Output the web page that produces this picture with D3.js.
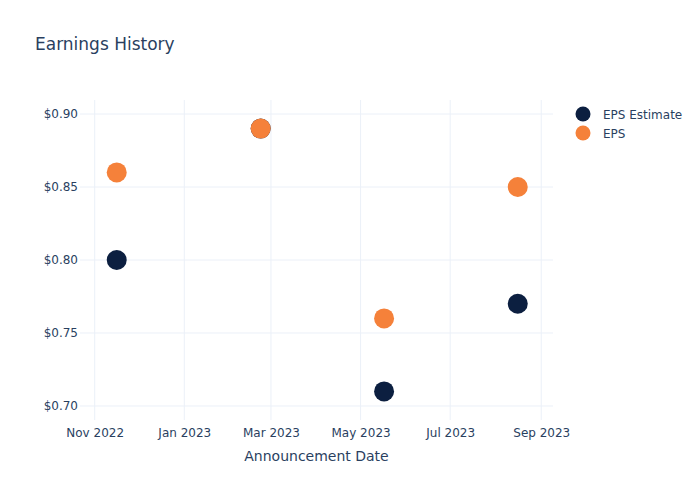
<!DOCTYPE html>
<html><head><meta charset="utf-8">
<script src="https://cdn.jsdelivr.net/npm/d3@7"></script>
<style>body{margin:0;background:#fff;font-family:"DejaVu Sans",Verdana,sans-serif;}</style>
</head><body><div id="chart"></div>
<script>
const dates = ["2022-11-16", "2023-02-22", "2023-05-17", "2023-08-16"];
const epsEstimate = [0.80, 0.89, 0.71, 0.77];
const eps = [0.86, 0.89, 0.76, 0.85];
const seriesNames = ["EPS Estimate", "EPS"];
const seriesColors = ["#0c1f40", "#f5813a"];
const yTicks = [0.70, 0.75, 0.80, 0.85, 0.90];
const xTickDates = ["2022-11-01", "2023-01-01", "2023-03-01", "2023-05-01", "2023-07-01", "2023-09-01"];

const W = 700, H = 500;
const m = {l: 80, r: 147, t: 100, b: 80};
const FONT = "'DejaVu Sans',Verdana,sans-serif";
const parse = d3.utcParse("%Y-%m-%d");
const svg = d3.select("#chart").append("svg").attr("width", W).attr("height", H);
const txt = "#2a3f5f";

const x = d3.scaleUtc().domain([parse("2022-10-22"), parse("2023-09-09")]).range([m.l, W - m.r]);
const y = d3.scaleLinear().domain([0.6904, 0.9096]).range([H - m.b, m.t]);

// grid
svg.append("g").selectAll("line").data(xTickDates).join("line")
  .attr("x1", d => x(parse(d))).attr("x2", d => x(parse(d)))
  .attr("y1", m.t).attr("y2", H - m.b).attr("stroke", "#ebf0f8").attr("stroke-width", 1);
svg.append("g").selectAll("line").data(yTicks).join("line")
  .attr("x1", m.l).attr("x2", W - m.r)
  .attr("y1", d => y(d)).attr("y2", d => y(d)).attr("stroke", "#ebf0f8").attr("stroke-width", 1);

// axes
const xAxis = d3.axisBottom(x).tickValues(xTickDates.map(parse)).tickFormat(d3.utcFormat("%b %Y")).tickSize(0).tickPadding(8);
const gx = svg.append("g").attr("transform", `translate(0,${H - m.b})`).call(xAxis);
gx.select(".domain").remove();
gx.selectAll("text").attr("fill", txt).style("font-size", "12px").style("font-family", FONT);

const yAxis = d3.axisLeft(y).tickValues(yTicks).tickFormat(d => "$" + d3.format(".2f")(d)).tickSize(0).tickPadding(2);
const gy = svg.append("g").attr("transform", `translate(${m.l},0)`).call(yAxis);
gy.select(".domain").remove();
gy.selectAll("text").attr("fill", txt).style("font-size", "12px").style("font-family", FONT);

// points
const series = [epsEstimate, eps];
series.forEach((vals, i) => {
  svg.append("g").selectAll("circle").data(vals).join("circle")
    .attr("cx", (d, j) => x(parse(dates[j])))
    .attr("cy", d => y(d))
    .attr("r", 10)
    .attr("fill", seriesColors[i]);
});

// title
svg.append("text").attr("x", 35).attr("y", 50).text("Earnings History")
  .attr("fill", txt).style("font-size", "17px").style("font-family", FONT);

// x axis title
svg.append("text").attr("x", (m.l + W - m.r) / 2).attr("y", 461).attr("text-anchor", "middle")
  .text("Announcement Date").attr("fill", txt).style("font-size", "14px").style("font-family", FONT);

// legend
const lg = svg.append("g").attr("transform", "translate(583,114)");
seriesNames.forEach((n, i) => {
  lg.append("circle").attr("cx", 0).attr("cy", i * 19).attr("r", 7.5).attr("fill", seriesColors[i]);
  lg.append("text").attr("x", 20).attr("y", i * 19 + 4.5).text(n).attr("fill", txt)
    .style("font-size", "12px").style("font-family", FONT);
});
</script></body></html>
